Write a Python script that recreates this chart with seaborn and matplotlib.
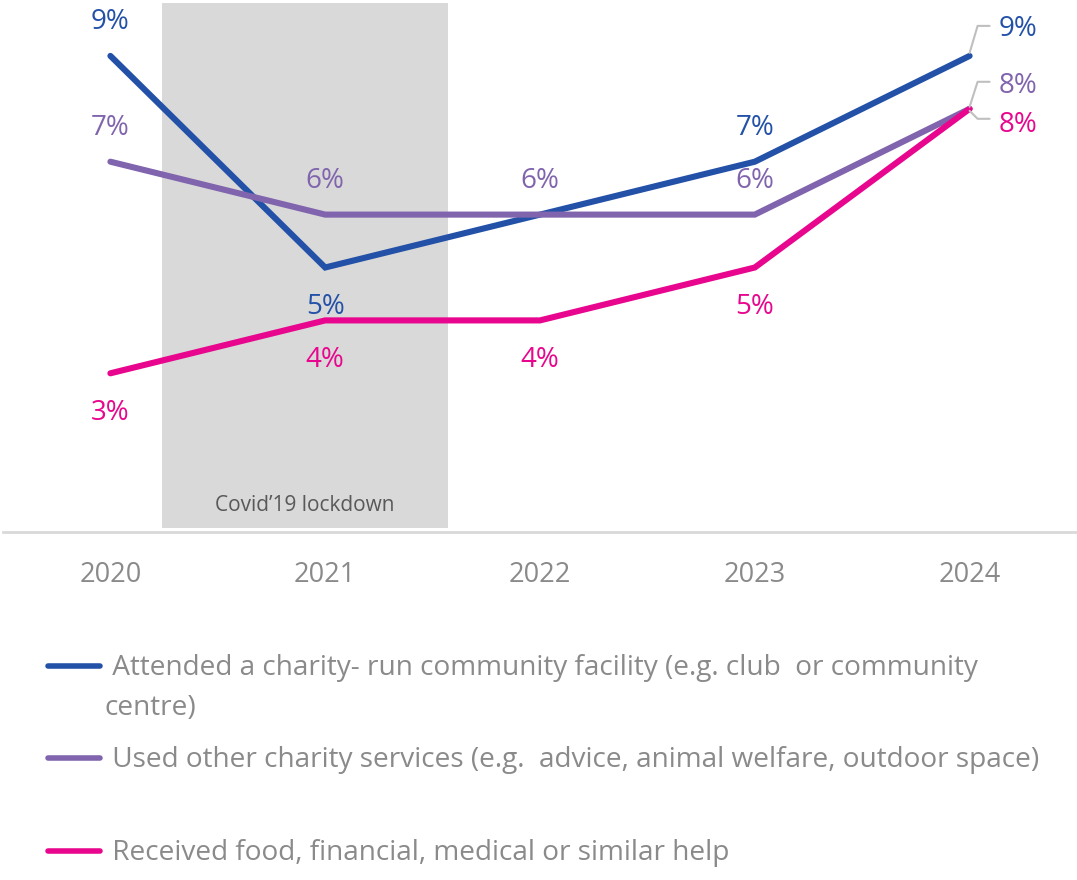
import matplotlib
matplotlib.use("Agg")
import matplotlib.pyplot as plt
from matplotlib.lines import Line2D
import seaborn as sns
import pandas as pd

# ---- data ----
years = ["2020", "2021", "2022", "2023", "2024"]
attended_facility = [9, 5, 6, 7, 9]
other_services = [7, 6, 6, 6, 8]
food_financial_help = [3, 4, 4, 5, 8]

series_names = [
    "Attended a charity- run community facility (e.g. club  or community centre)",
    "Used other charity services (e.g.  advice, animal welfare, outdoor space)",
    "Received food, financial, medical or similar help",
]
legend_texts = [
    " Attended a charity- run community facility (e.g. club  or community\ncentre)",
    " Used other charity services (e.g.  advice, animal welfare, outdoor space)",
    " Received food, financial, medical or similar help",
]
lockdown_label = "Covid\u201919 lockdown"

colors = ["#2351A7", "#8064AD", "#E8068E"]
TEXT_GREY = "#8A8A8A"

# label placement for each point: 'up', 'down', None (no label), 'lead' (leader line)
placements = [
    ["up", "down", None, "up", "lead"],
    ["up", "up", "up", "up", "lead"],
    ["down", "down", "down", "down", "lead"],
]
# leader line geometry in pixels relative to the end point (x right, y up)
leaders = [
    [(0, 3), (8, 30), (20, 30), 27],
    [(0, 2), (8, 27), (20, 27), 23],
    [(0, -2), (8, -10), (20, -10), -16],
]

df = pd.DataFrame({
    "year": years * 3,
    "value": attended_facility + other_services + food_financial_help,
    "series": sum([[n] * len(years) for n in series_names], []),
})

sns.set_theme(style="white")
plt.rcParams["font.family"] = ["Open Sans", "DejaVu Sans"]

W, H = 1077, 880
fig = plt.figure(figsize=(W / 100, H / 100), dpi=100)
ax = fig.add_axes([3 / W, 1 - 532 / H, 1 - 3 / W, 529 / H])

# lockdown shading
ax.axvspan(0.242, 1.572, ymin=0.008, ymax=1, color="#D9D9D9", lw=0, zorder=0)
ax.text((0.242 + 1.572) / 2, 0.5, lockdown_label, ha="center", va="center",
        fontsize=15, color="#595959", zorder=1)

sns.lineplot(data=df, x="year", y="value", hue="series", palette=colors,
             hue_order=series_names, sort=False, linewidth=4.4, legend=False,
             solid_capstyle="round", solid_joinstyle="miter", ax=ax, zorder=3)

ax.set_xlim(-0.5, 4.5)
ax.set_ylim(0, 10)
ax.set_xlabel("")
ax.set_ylabel("")
ax.set_yticks([])
ax.tick_params(axis="x", length=0, pad=21, labelsize=19.5, labelcolor=TEXT_GREY)
for s in ["top", "left", "right"]:
    ax.spines[s].set_visible(False)
ax.spines["bottom"].set_color("#D9D9D9")
ax.spines["bottom"].set_linewidth(2)

# value labels
LABEL_SIZE = 20
all_values = [attended_facility, other_services, food_financial_help]
fig.canvas.draw()
for vals, col, place, lead in zip(all_values, colors, placements, leaders):
    for i, v in enumerate(vals):
        p = place[i]
        if p is None:
            continue
        txt = f"{v}%"
        if p == "up":
            ax.annotate(txt, (i, v), xytext=(0, 34), textcoords="offset pixels",
                        ha="center", va="center", fontsize=LABEL_SIZE,
                        color=col, zorder=4)
        elif p == "down":
            ax.annotate(txt, (i, v), xytext=(0, -40), textcoords="offset pixels",
                        ha="center", va="center", fontsize=LABEL_SIZE,
                        color=col, zorder=4)
        else:
            px, py = ax.transData.transform((i, v))
            xs = [px + d[0] for d in lead[:3]]
            ys = [py + d[1] for d in lead[:3]]
            fig.add_artist(Line2D(xs, ys, transform=None, color="#BFBFBF",
                                  lw=1.5, zorder=2))
            ax.annotate(txt, (i, v), xytext=(29, lead[3]),
                        textcoords="offset pixels", ha="left", va="center",
                        fontsize=LABEL_SIZE, color=col, zorder=4,
                        annotation_clip=False)

# legend
legend_y = [666, 758, 851]
for ty, col, label in zip(legend_y, colors, legend_texts):
    fig.add_artist(Line2D([48 / W, 100 / W], [1 - ty / H, 1 - ty / H],
                          transform=fig.transFigure, color=col, lw=4,
                          solid_capstyle="round"))
    fig.text(105 / W, 1 - (ty - 12) / H, label, ha="left", va="top",
             fontsize=20.2, color=TEXT_GREY, linespacing=1.55)

fig.savefig("out.png", dpi=100)
